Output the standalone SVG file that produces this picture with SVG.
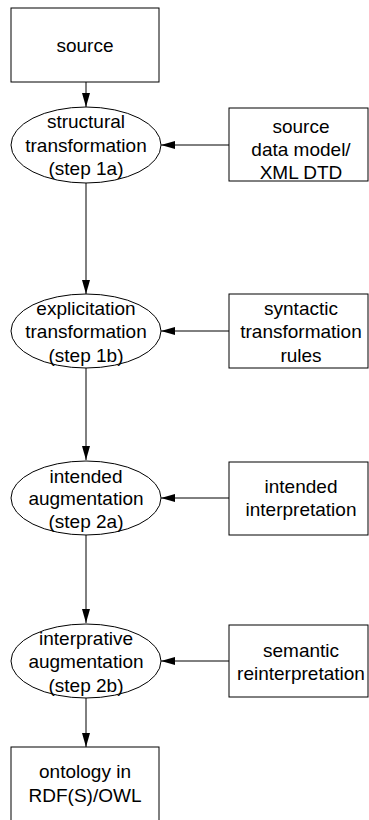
<svg xmlns="http://www.w3.org/2000/svg" width="369" height="820" viewBox="0 0 369 820">
<defs>
<style>
.s{fill:#fff;stroke:#000;stroke-width:1}
.t{font-family:"Liberation Sans",Arial,sans-serif;font-size:19px;fill:#000;text-anchor:middle}
.c{stroke:#000;stroke-width:1;fill:none}
</style>
<marker id="ah" viewBox="0 0 14 8" refX="14" refY="4" markerWidth="14" markerHeight="8" markerUnits="userSpaceOnUse" orient="auto">
<path d="M0,0L14,4L0,8Z" fill="#000"/>
</marker>
</defs>
<rect width="369" height="820" fill="#fff"/>
<g id="connectors">
<line class="c" x1="86" y1="82" x2="86" y2="107" marker-end="url(#ah)"/>
<line class="c" x1="229" y1="145" x2="161" y2="145" marker-end="url(#ah)"/>
<line class="c" x1="86" y1="183" x2="86" y2="294" marker-end="url(#ah)"/>
<line class="c" x1="229" y1="331" x2="161" y2="331" marker-end="url(#ah)"/>
<line class="c" x1="86" y1="368" x2="86" y2="460" marker-end="url(#ah)"/>
<line class="c" x1="229" y1="498" x2="161" y2="498" marker-end="url(#ah)"/>
<line class="c" x1="86" y1="535" x2="86" y2="623" marker-end="url(#ah)"/>
<line class="c" x1="229" y1="661" x2="161" y2="661" marker-end="url(#ah)"/>
<line class="c" x1="86" y1="698" x2="86" y2="747" marker-end="url(#ah)"/>
</g>
<g id="source">
<rect class="s" x="11" y="8" width="148" height="74"/>
<text class="t" x="85" y="52">source</text>
</g>
<g id="step1a">
<ellipse class="s" cx="86" cy="145" rx="75" ry="38"/>
<text class="t" x="86" y="128">structural</text>
<text class="t" x="86" y="152">transformation</text>
<text class="t" x="86" y="175">(step 1a)</text>
</g>
<g id="datamodel">
<rect class="s" x="229" y="108" width="139" height="73"/>
<text class="t" x="301" y="133">source</text>
<text class="t" x="301" y="156">data model/</text>
<text class="t" x="301" y="179">XML DTD</text>
</g>
<g id="step1b">
<ellipse class="s" cx="86" cy="331" rx="75" ry="37"/>
<text class="t" x="86" y="315">explicitation</text>
<text class="t" x="86" y="338">transformation</text>
<text class="t" x="86" y="362">(step 1b)</text>
</g>
<g id="syntactic">
<rect class="s" x="229" y="294" width="139" height="74"/>
<text class="t" x="301" y="315">syntactic</text>
<text class="t" x="301" y="338">transformation</text>
<text class="t" x="301" y="362">rules</text>
</g>
<g id="step2a">
<ellipse class="s" cx="86" cy="498" rx="75" ry="37"/>
<text class="t" x="86" y="483">intended</text>
<text class="t" x="86" y="505">augmentation</text>
<text class="t" x="86" y="528">(step 2a)</text>
</g>
<g id="intended">
<rect class="s" x="229" y="462" width="139" height="73"/>
<text class="t" x="301" y="493">intended</text>
<text class="t" x="301" y="516">interpretation</text>
</g>
<g id="step2b">
<ellipse class="s" cx="86" cy="661" rx="75" ry="37"/>
<text class="t" x="86" y="645">interprative</text>
<text class="t" x="86" y="668">augmentation</text>
<text class="t" x="86" y="692">(step 2b)</text>
</g>
<g id="semantic">
<rect class="s" x="229" y="625" width="139" height="72"/>
<text class="t" x="301" y="657">semantic</text>
<text class="t" x="301" y="680">reinterpretation</text>
</g>
<g id="ontology">
<rect class="s" x="11" y="747" width="148" height="80"/>
<text class="t" x="85" y="778">ontology in</text>
<text class="t" x="85" y="802">RDF(S)/OWL</text>
</g>
</svg>
